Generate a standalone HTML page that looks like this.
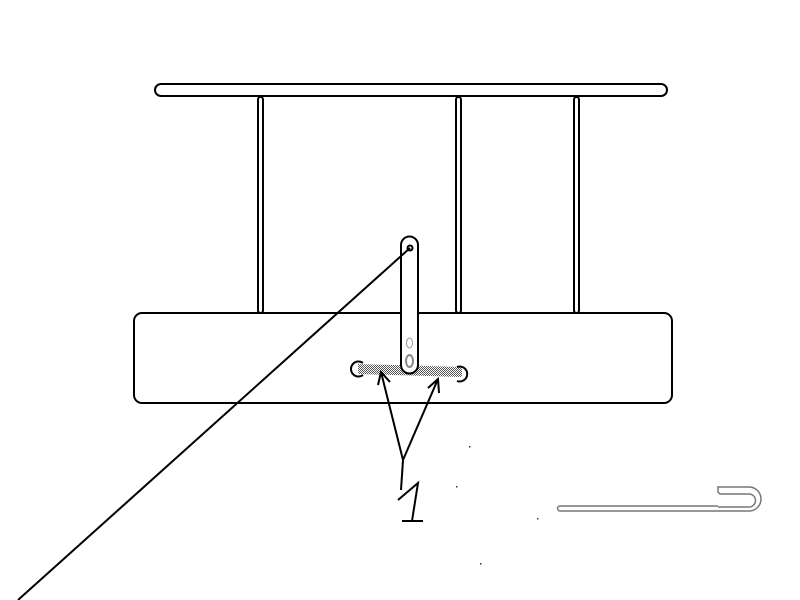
<!DOCTYPE html>
<html><head><style>html,body{margin:0;padding:0;background:#fff;}svg{display:block}</style></head>
<body>
<svg width="800" height="600" viewBox="0 0 800 600" xmlns="http://www.w3.org/2000/svg">
<defs>
<pattern id="dots" width="2" height="2" patternUnits="userSpaceOnUse">
<rect width="2" height="2" fill="#fff"/><rect width="1" height="1" fill="#555"/><rect x="1" y="1" width="1" height="1" fill="#555"/>
</pattern>
</defs>
<g fill="none" stroke="#000" stroke-width="2">
<rect x="155" y="84" width="512" height="12" rx="6"/>
<rect x="258" y="97" width="5" height="216" rx="2.5"/>
<rect x="456" y="97" width="5" height="216" rx="2.5"/>
<rect x="574" y="97" width="5" height="216" rx="2.5"/>
<rect x="134" y="313" width="538" height="90" rx="8" fill="#fff"/>
</g>
<polygon points="358,364 462,367 462,377 358,374" fill="url(#dots)"/>
<g fill="none" stroke="#000" stroke-width="2">
<path d="M401 245 a8.5 8.5 0 0 1 17 0 V365 a8.5 8.5 0 0 1 -17 0 Z" fill="#fff"/>
<circle cx="410" cy="248" r="2.5"/>
<line x1="410" y1="248" x2="18" y2="600"/>
<path d="M363 363 A7.5 7.5 0 1 0 363 375"/>
<path d="M457 367 A7.5 7.5 0 1 1 457 381"/>
<line x1="403" y1="460" x2="381" y2="372"/>
<polyline points="378,385 381,372 390,382"/>
<line x1="403" y1="460" x2="438" y2="379"/>
<polyline points="428,388 438,379 439,393"/>
<line x1="403" y1="460" x2="401" y2="490"/>
<polyline points="398,500 418,483 412,521"/>
<line x1="402" y1="521" x2="423" y2="521"/>
</g>
<ellipse cx="409.5" cy="343" rx="3" ry="5" fill="none" stroke="#999" stroke-width="1"/>
<ellipse cx="409.5" cy="361" rx="3.5" ry="6" fill="none" stroke="#888" stroke-width="2"/>
<g fill="none" stroke="#777" stroke-width="1.5">
<path d="M718 506 H560 a2 2 0 0 0 0 5 H718"/>
<path d="M718 511 H749 a12 12 0 0 0 0 -24 H718 V492 L720 494 H749 a6.5 6.5 0 0 1 0 13 H718"/>
</g>
<g fill="#333"><rect x="469" y="446" width="1.5" height="1.5"/><rect x="456" y="486" width="1.5" height="1.5"/><rect x="537" y="518" width="1.5" height="1.5"/><rect x="480" y="563" width="1.5" height="1.5"/></g>
</svg>
</body></html>
